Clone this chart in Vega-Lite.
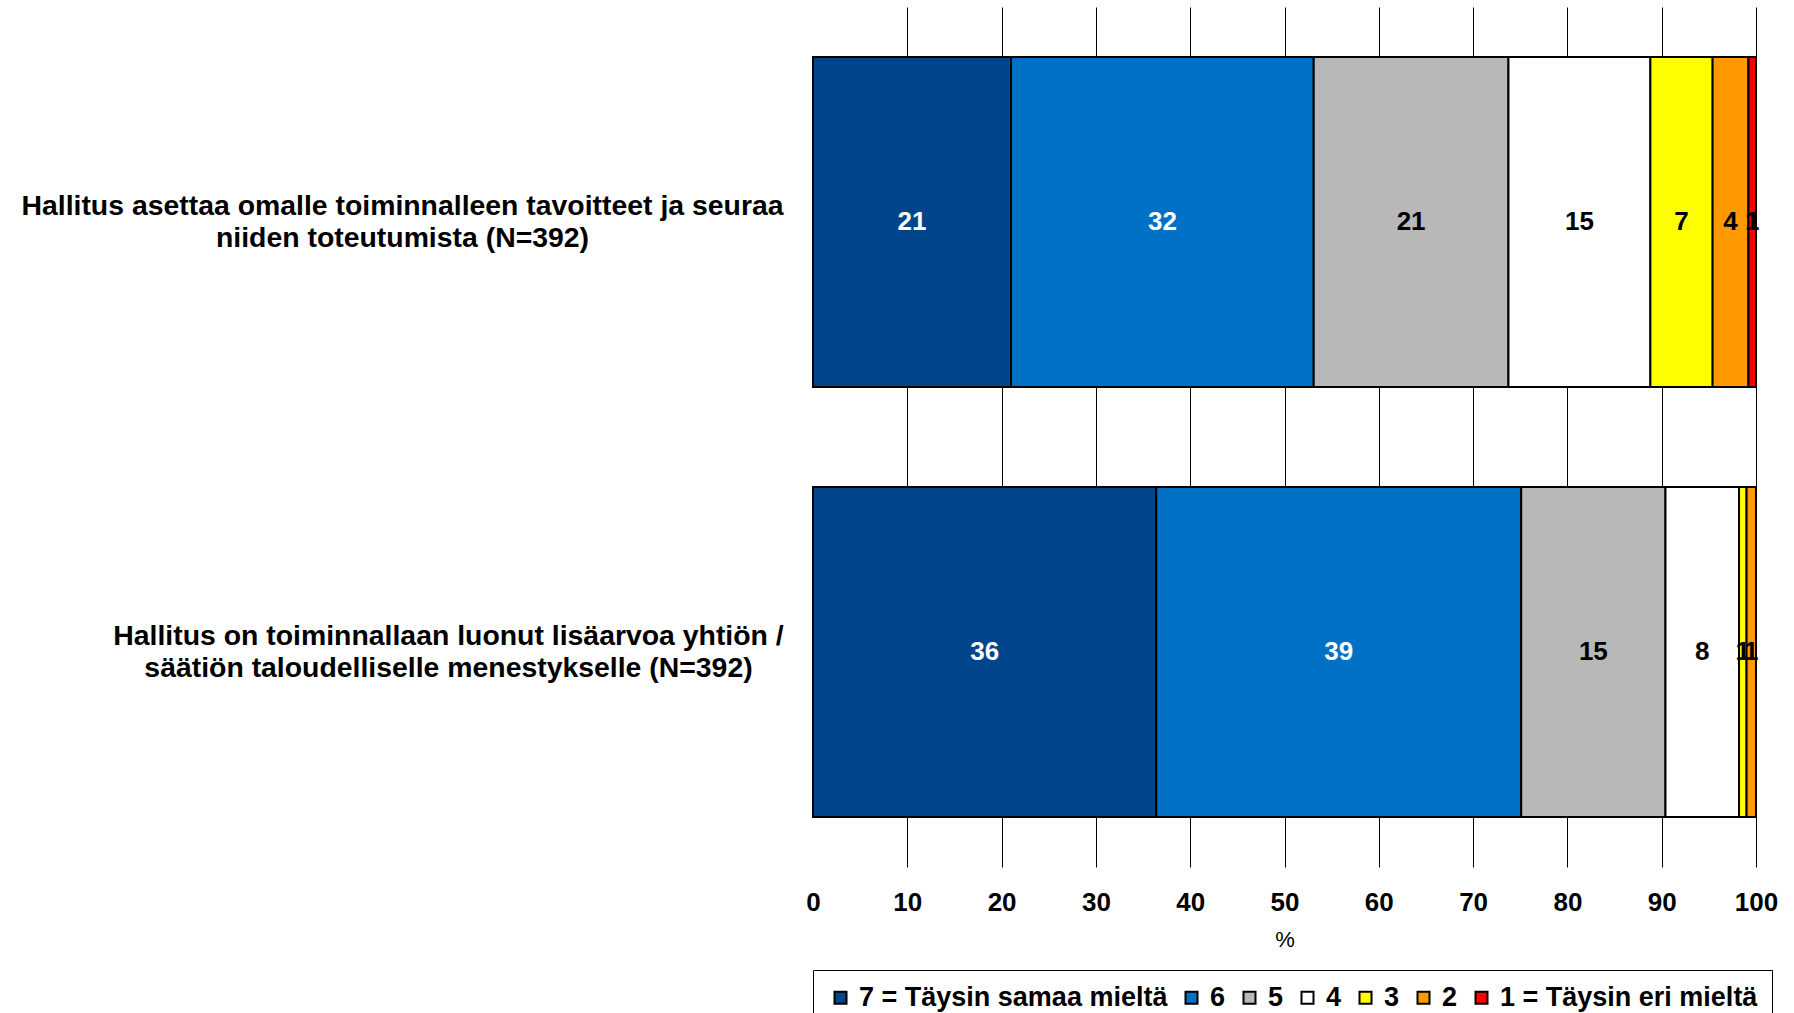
{
  "$schema": "https://vega.github.io/schema/vega-lite/v6.json",
  "autosize": {"type": "none"},
  "padding": {"left": 813, "top": 7, "right": 38, "bottom": 146},
  "width": 943,
  "height": 860,
  "background": "white",
  "config": {"view": {"stroke": null}, "font": "Liberation Sans"},
  "data": {
    "values": [
      {"question": "Hallitus asettaa omalle toiminnalleen tavoitteet ja seuraa\nniiden toteutumista (N=392)", "answer": "7 = Täysin samaa mieltä", "rank": 1, "value": 21.0},
      {"question": "Hallitus asettaa omalle toiminnalleen tavoitteet ja seuraa\nniiden toteutumista (N=392)", "answer": "6", "rank": 2, "value": 32.1},
      {"question": "Hallitus asettaa omalle toiminnalleen tavoitteet ja seuraa\nniiden toteutumista (N=392)", "answer": "5", "rank": 3, "value": 20.65},
      {"question": "Hallitus asettaa omalle toiminnalleen tavoitteet ja seuraa\nniiden toteutumista (N=392)", "answer": "4", "rank": 4, "value": 15.05},
      {"question": "Hallitus asettaa omalle toiminnalleen tavoitteet ja seuraa\nniiden toteutumista (N=392)", "answer": "3", "rank": 5, "value": 6.6},
      {"question": "Hallitus asettaa omalle toiminnalleen tavoitteet ja seuraa\nniiden toteutumista (N=392)", "answer": "2", "rank": 6, "value": 3.8},
      {"question": "Hallitus asettaa omalle toiminnalleen tavoitteet ja seuraa\nniiden toteutumista (N=392)", "answer": "1 = Täysin eri mieltä", "rank": 7, "value": 0.8},
      {"question": "Hallitus on toiminnallaan luonut lisäarvoa yhtiön /\nsäätiön taloudelliselle menestykselle (N=392)", "answer": "7 = Täysin samaa mieltä", "rank": 1, "value": 36.4},
      {"question": "Hallitus on toiminnallaan luonut lisäarvoa yhtiön /\nsäätiön taloudelliselle menestykselle (N=392)", "answer": "6", "rank": 2, "value": 38.7},
      {"question": "Hallitus on toiminnallaan luonut lisäarvoa yhtiön /\nsäätiön taloudelliselle menestykselle (N=392)", "answer": "5", "rank": 3, "value": 15.3},
      {"question": "Hallitus on toiminnallaan luonut lisäarvoa yhtiön /\nsäätiön taloudelliselle menestykselle (N=392)", "answer": "4", "rank": 4, "value": 7.8},
      {"question": "Hallitus on toiminnallaan luonut lisäarvoa yhtiön /\nsäätiön taloudelliselle menestykselle (N=392)", "answer": "3", "rank": 5, "value": 0.8},
      {"question": "Hallitus on toiminnallaan luonut lisäarvoa yhtiön /\nsäätiön taloudelliselle menestykselle (N=392)", "answer": "2", "rank": 6, "value": 1.0}
    ]
  },
  "encoding": {
    "y": {
      "field": "question",
      "type": "nominal",
      "sort": null,
      "scale": {"paddingInner": 0.233, "paddingOuter": 0.1165},
      "axis": {
        "title": null,
        "domain": false,
        "ticks": false,
        "tickSize": 0,
        "labelExpr": "split(datum.value, '\\n')",
        "labelAlign": "center",
        "labelBaseline": "middle",
        "labelOffset": -16,
        "labelPadding": {"condition": {"test": "indexof(datum.value, 'asettaa') >= 0", "value": 411}, "value": 365},
        "labelFont": "Liberation Sans",
        "labelFontWeight": "bold",
        "labelFontSize": 28.4,
        "labelLineHeight": 32,
        "labelColor": "black",
        "labelLimit": 2000
      }
    },
    "x": {
      "field": "value",
      "type": "quantitative",
      "stack": "zero",
      "scale": {"domain": [0, 100], "nice": false},
      "axis": {
        "title": "%",
        "values": [0, 10, 20, 30, 40, 50, 60, 70, 80, 90, 100],
        "grid": true,
        "gridColor": "black",
        "gridWidth": 1,
        "gridOpacity": {"condition": {"test": "datum.value === 0", "value": 0}, "value": 1},
        "domain": false,
        "ticks": false,
        "tickSize": 0,
        "labelPadding": 22,
        "labelFont": "Liberation Sans",
        "labelFontWeight": "bold",
        "labelFontSize": 26,
        "labelColor": "black",
        "labelFlush": false,
        "titleFont": "Liberation Sans",
        "titleFontWeight": "normal",
        "titleFontSize": 22,
        "titleColor": "black",
        "titlePadding": 14
      }
    },
    "order": {"field": "rank", "type": "quantitative"}
  },
  "layer": [
    {
      "mark": {"type": "bar", "stroke": "black", "strokeWidth": 2},
      "encoding": {
        "color": {
          "field": "answer",
          "type": "nominal",
          "scale": {
            "domain": ["7 = Täysin samaa mieltä", "6", "5", "4", "3", "2", "1 = Täysin eri mieltä"],
            "range": ["#00458A", "#0071C5", "#B8B8B8", "#FFFFFF", "#FFFF00", "#FF9900", "#FF0000"]
          },
          "legend": {
            "title": null,
            "orient": "none",
            "legendX": 0,
            "legendY": 963,
            "direction": "horizontal",
            "columns": 7,
            "symbolType": "square",
            "symbolSize": 144,
            "symbolStrokeColor": "black",
            "symbolStrokeWidth": 2,
            "labelFont": "Liberation Sans",
            "labelFontWeight": "bold",
            "labelFontSize": 27,
            "labelColor": "black",
            "labelOffset": 5,
            "labelLimit": 1000,
            "columnPadding": 10,
            "padding": 14,
            "strokeColor": "black",
            "fillColor": "white"
          }
        }
      }
    },
    {
      "mark": {"type": "text", "font": "Liberation Sans", "fontWeight": "bold", "fontSize": 26, "baseline": "middle", "align": "center"},
      "encoding": {
        "x": {"field": "value", "type": "quantitative", "stack": "zero", "bandPosition": 0.5},
        "text": {"field": "value", "type": "quantitative", "format": ".0f"},
        "color": {
          "condition": {"test": "datum.rank <= 2", "value": "white"},
          "value": "black"
        }
      }
    }
  ]
}
